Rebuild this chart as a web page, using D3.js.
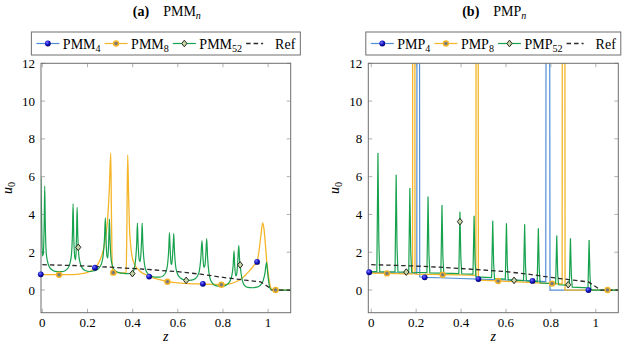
<!DOCTYPE html>
<html>
<head>
<meta charset="utf-8">
<script src="https://cdn.jsdelivr.net/npm/d3@7"></script>
<style>
body { margin: 0; background: #fff; }
</style>
</head>
<body>
<svg id="chart" width="628" height="347" font-family="'Liberation Serif', 'Times New Roman', 'DejaVu Serif', serif"></svg>
<script>
// ticks
const xTicks = [0, 0.2, 0.4, 0.6, 0.8, 1]
const yTicks = [0, 2, 4, 6, 8, 10, 12]

// reference solution (same in both panels)
const refLine = [[0,1.34],[0.1,1.31],[0.2,1.27],[0.3,1.21],[0.4,1.14],[0.5,1.06],[0.6,0.97],[0.7,0.84],[0.8,0.67],[0.9,0.52],[0.967,0.43],[1.0,0.17],[1.02,0],[1.1,0]]

// panel (a) PMM_n
const pmm8 = [[0,0.82],[0.074,0.81],[0.13,0.82],[0.17,0.86],[0.2,0.94],[0.22,1.05],[0.233,1.18],[0.25,1.45],[0.265,1.9],[0.278,2.6],[0.288,3.6],[0.296,5.2],[0.303,7.25],[0.306,4.0],[0.309,1.5],[0.312,0.95],[0.33,0.92],[0.36,0.9],[0.371,0.92],[0.374,3.0],[0.378,7.15],[0.382,5.0],[0.386,3.3],[0.391,2.4],[0.397,1.8],[0.405,1.45],[0.42,1.15],[0.44,0.92],[0.46,0.8],[0.473,0.72],[0.52,0.55],[0.554,0.44],[0.6,0.38],[0.65,0.34],[0.7,0.32],[0.75,0.3],[0.793,0.28],[0.83,0.32],[0.86,0.45],[0.89,0.68],[0.92,1.05],[0.94,1.35],[0.951,1.5],[0.96,2.1],[0.968,2.9],[0.976,3.55],[0.982,3.2],[0.988,2.4],[0.994,1.5],[1.0,0.9],[1.006,0.4],[1.012,0.1],[1.02,0],[1.1,0]]
const pmm4 = pmm8 // lies under PMM8 everywhere, only its marks show
const pmm52 = [[-0.006,5.95],[-0.003,3.5],[0.0,1.8],[0.004,1.9],[0.008,3.5],[0.0105,5.5],[0.013,3.5],[0.017,2.0],[0.023,1.5],[0.032,1.2],[0.045,1.05],[0.065,0.97],[0.085,0.97],[0.1,1.02],[0.113,1.15],[0.122,1.4],[0.129,1.9],[0.133,2.9],[0.136,4.56],[0.139,2.9],[0.143,1.8],[0.147,1.6],[0.15,2.2],[0.152,3.3],[0.154,4.37],[0.157,2.9],[0.161,1.9],[0.166,1.5],[0.175,1.2],[0.19,1.03],[0.21,0.98],[0.23,1.02],[0.25,1.15],[0.262,1.4],[0.27,1.9],[0.275,2.7],[0.279,3.82],[0.282,2.7],[0.286,1.8],[0.29,1.7],[0.293,2.3],[0.295,3.0],[0.297,3.75],[0.3,2.6],[0.304,1.7],[0.31,1.3],[0.32,1.05],[0.34,0.92],[0.36,0.88],[0.38,0.87],[0.398,0.9],[0.407,1.15],[0.413,1.6],[0.418,2.5],[0.421,3.54],[0.424,2.5],[0.429,1.6],[0.433,1.5],[0.437,2.0],[0.44,2.8],[0.442,3.54],[0.445,2.5],[0.45,1.6],[0.456,1.15],[0.465,0.9],[0.48,0.75],[0.5,0.68],[0.52,0.68],[0.535,0.75],[0.547,0.95],[0.555,1.4],[0.56,2.2],[0.563,3.04],[0.566,2.2],[0.57,1.4],[0.573,1.35],[0.577,1.9],[0.58,2.5],[0.582,2.99],[0.585,2.1],[0.59,1.3],[0.597,0.9],[0.61,0.65],[0.63,0.53],[0.65,0.51],[0.67,0.55],[0.685,0.7],[0.695,1.0],[0.702,1.7],[0.707,2.62],[0.711,1.8],[0.715,1.2],[0.72,1.3],[0.724,1.9],[0.728,2.72],[0.732,1.7],[0.738,0.9],[0.746,0.5],[0.76,0.28],[0.78,0.2],[0.8,0.2],[0.815,0.26],[0.83,0.45],[0.84,0.8],[0.845,1.3],[0.849,2.07],[0.852,1.3],[0.856,0.75],[0.86,0.8],[0.865,1.4],[0.87,2.37],[0.873,1.7],[0.876,1.33],[0.88,0.9],[0.886,0.5],[0.895,0.25],[0.91,0.14],[0.93,0.12],[0.95,0.15],[0.965,0.25],[0.978,0.5],[0.986,0.9],[0.993,1.47],[0.998,0.9],[1.003,0.4],[1.008,0.1],[1.015,0],[1.1,0]]
const pmm4Marks = [[-0.007,0.83],[0.233,1.18],[0.473,0.71],[0.711,0.33],[0.951,1.49]]
const pmm8Marks = [[0.074,0.81],[0.314,0.92],[0.554,0.44],[0.793,0.28],[1.033,0]]
const pmm52Marks = [[0.159,2.26],[0.399,0.87],[0.637,0.51],[0.876,1.33]]

// panel (b) PMP_n  (spikes leave the box, tops at 40 get clipped)
const pmp4 = [[0,0.93],[0.1,0.91],[0.2,0.88],[0.203,0.88],[0.205,40],[0.213,40],[0.216,0.7],[0.238,0.67],[0.3,0.65],[0.4,0.61],[0.477,0.58],[0.6,0.53],[0.718,0.48],[0.777,0.44],[0.781,40],[0.792,40],[0.796,0],[1.1,0]]
const pmp8 = [[0,0.9],[0.07,0.88],[0.15,0.86],[0.184,0.86],[0.186,40],[0.193,40],[0.195,0.84],[0.318,0.81],[0.4,0.8],[0.466,0.78],[0.468,40],[0.475,40],[0.477,0.52],[0.565,0.48],[0.7,0.4],[0.805,0.34],[0.85,0.32],[0.852,40],[0.861,40],[0.863,0],[1.1,0]]
const pmp52 = [[0,0.97],[0.025,0.97],[0.03,7.25],[0.034,2.5],[0.038,0.97],[0.106,0.96],[0.111,6.1],[0.115,2.2],[0.119,0.96],[0.167,0.95],[0.172,5.4],[0.176,2.0],[0.18,0.94],[0.248,0.92],[0.253,4.95],[0.257,1.9],[0.261,0.91],[0.31,0.9],[0.315,4.5],[0.319,1.8],[0.323,0.89],[0.39,0.87],[0.395,4.14],[0.399,1.7],[0.403,0.86],[0.453,0.84],[0.458,3.93],[0.462,1.6],[0.466,0.7],[0.536,0.66],[0.541,3.66],[0.545,1.4],[0.549,0.6],[0.597,0.58],[0.602,3.54],[0.606,1.3],[0.61,0.55],[0.678,0.5],[0.683,3.48],[0.687,1.2],[0.691,0.48],[0.739,0.45],[0.744,3.27],[0.748,1.1],[0.752,0.38],[0.821,0.33],[0.826,2.88],[0.83,0.9],[0.834,0.28],[0.882,0.25],[0.887,2.74],[0.891,0.8],[0.895,0.15],[0.965,0.12],[0.97,2.65],[0.974,0.7],[0.978,0.05],[0.985,0],[1.1,0]]
const pmp4Marks = [[-0.009,0.94],[0.238,0.67],[0.477,0.58],[0.718,0.48],[0.967,0]]
const pmp8Marks = [[0.07,0.88],[0.318,0.81],[0.565,0.48],[0.805,0.34],[1.052,0]]
const pmp52Marks = [[0.156,0.95],[0.395,3.62],[0.636,0.51],[0.877,0.28]]

const colBlue = '#4f8fd6', colOrange = '#f5b528', colGreen = '#17a24e'

const svg = d3.select('#chart')
const defs = svg.append('defs')
let grad = defs.append('radialGradient').attr('id', 'ball').attr('cx', '38%').attr('cy', '35%').attr('r', '65%')
grad.append('stop').attr('offset', '0%').attr('stop-color', '#7a7aff')
grad.append('stop').attr('offset', '55%').attr('stop-color', '#1414c8')
grad.append('stop').attr('offset', '100%').attr('stop-color', '#00006a')

function drawMark(g, kind, cx, cy) {
    if (kind == 'ball') {
        g.append('circle').attr('cx', cx).attr('cy', cy).attr('r', 2.9).attr('fill', 'url(#ball)')
    } else if (kind == 'dot') {
        g.append('circle').attr('cx', cx).attr('cy', cy).attr('r', 2.5)
            .attr('fill', '#7b7b7b').attr('stroke', colOrange).attr('stroke-width', 1.4)
    } else {
        g.append('path').attr('transform', `translate(${cx},${cy})`)
            .attr('d', 'M0,-3.3L2.6,0L0,3.3L-2.6,0Z')
            .attr('fill', '#c8d8a4').attr('stroke', '#262626').attr('stroke-width', 1)
    }
}

function subText(sel, parts, size) {
    parts.forEach((p) => {
        let t = sel.append('tspan').text(p.t)
        if (p.bold) t.attr('font-weight', 'bold')
        if (p.italic) t.attr('font-style', 'italic')
        if (p.sub) t.attr('font-size', size * 0.72).attr('dy', size * 0.22)
    })
}

function drawPanel(cfg) {
    let x = d3.scaleLinear(cfg.xDomain, [cfg.left, cfg.right])
    let y = d3.scaleLinear([-1.2, 12], [cfg.bottom, cfg.top])
    let g = svg.append('g')
    let clipId = 'clip' + cfg.id
    defs.append('clipPath').attr('id', clipId).append('rect')
        .attr('x', cfg.left).attr('y', cfg.top).attr('width', cfg.right - cfg.left).attr('height', cfg.bottom - cfg.top)

    // ticks, mirrored inside the box
    let tickCol = '#b0b0b0'
    xTicks.forEach((t) => {
        g.append('line').attr('x1', x(t)).attr('x2', x(t)).attr('y1', cfg.bottom).attr('y2', cfg.bottom - 4).attr('stroke', tickCol)
        g.append('line').attr('x1', x(t)).attr('x2', x(t)).attr('y1', cfg.top).attr('y2', cfg.top + 4).attr('stroke', tickCol)
        g.append('text').attr('x', x(t)).attr('y', cfg.bottom + 14).attr('text-anchor', 'middle').attr('font-size', 13).text(t)
    })
    yTicks.forEach((t) => {
        g.append('line').attr('x1', cfg.left).attr('x2', cfg.left + 4).attr('y1', y(t)).attr('y2', y(t)).attr('stroke', tickCol)
        g.append('line').attr('x1', cfg.right).attr('x2', cfg.right - 4).attr('y1', y(t)).attr('y2', y(t)).attr('stroke', tickCol)
        g.append('text').attr('x', cfg.left - 6).attr('y', y(t) + 4.5).attr('text-anchor', 'end').attr('font-size', 13).text(t)
    })

    let line = d3.line().x((d) => x(d[0])).y((d) => y(d[1])).curve(cfg.curve)
    let plot = g.append('g').attr('clip-path', `url(#${clipId})`).attr('fill', 'none')
    if (cfg.blueLine) plot.append('path').attr('d', line(cfg.s4)).attr('stroke', colBlue).attr('stroke-width', 1.2)
    plot.append('path').attr('d', line(cfg.s8)).attr('stroke', colOrange).attr('stroke-width', 1.3)
    plot.append('path').attr('d', line(cfg.s52)).attr('stroke', colGreen).attr('stroke-width', 1.2)
    plot.append('path').attr('d', d3.line().x((d) => x(d[0])).y((d) => y(d[1]))(refLine))
        .attr('stroke', '#2b2b2b').attr('stroke-width', 1.3).attr('stroke-dasharray', '4.5,3')

    // frame
    g.append('rect').attr('x', cfg.left).attr('y', cfg.top).attr('width', cfg.right - cfg.left).attr('height', cfg.bottom - cfg.top)
        .attr('fill', 'none').attr('stroke', '#6e6e6e').attr('stroke-width', 1)

    let marks = g.append('g')
    cfg.m4.forEach((d) => drawMark(marks, 'ball', x(d[0]), y(d[1])))
    cfg.m8.forEach((d) => drawMark(marks, 'dot', x(d[0]), y(d[1])))
    cfg.m52.forEach((d) => drawMark(marks, 'diamond', x(d[0]), y(d[1])))

    // axis labels
    let cx = (cfg.left + cfg.right) / 2
    g.append('text').attr('x', cx).attr('y', 341).attr('text-anchor', 'middle').attr('font-size', 14)
        .attr('font-style', 'italic').text('z')
    let yl = g.append('text').attr('transform', `translate(${cfg.left - 29},${(cfg.top + cfg.bottom) / 2}) rotate(-90)`)
        .attr('text-anchor', 'middle').attr('font-size', 14)
    subText(yl, [{t: 'u', italic: true}, {t: '0', sub: true}], 14)

    // title
    let tt = g.append('text').attr('x', cx + 1).attr('y', 16).attr('text-anchor', 'middle').attr('font-size', 14)
    subText(tt, [{t: '(' + cfg.id + ')', bold: true}, {t: '\u2003' + cfg.name}, {t: 'n', sub: true, italic: true}], 14)

    // legend
    let lg = g.append('g')
    let entries = [
        {name: cfg.name, sub: '4', col: colBlue, mark: 'ball'},
        {name: cfg.name, sub: '8', col: colOrange, mark: 'dot'},
        {name: cfg.name, sub: '52', col: colGreen, mark: 'diamond'},
        {name: 'Ref', sub: null, col: '#2b2b2b', mark: null}
    ]
    let ly = 43.5, pos = 0
    entries.forEach((e) => {
        let item = lg.append('g')
        if (e.mark) {
            item.append('line').attr('x1', pos).attr('x2', pos + 23).attr('y1', ly).attr('y2', ly).attr('stroke', e.col).attr('stroke-width', 1.2)
            drawMark(item, e.mark, pos + 11.5, ly)
        } else {
            item.append('line').attr('x1', pos).attr('x2', pos + 17).attr('y1', ly).attr('y2', ly)
                .attr('stroke', e.col).attr('stroke-width', 1.3).attr('stroke-dasharray', '4.5,3')
        }
        let tx = pos + (e.mark ? 26.5 : 29)
        let t = item.append('text').attr('x', tx).attr('y', ly + 5).attr('font-size', 14)
        let parts = [{t: e.name}]
        if (e.sub) parts.push({t: e.sub, sub: true})
        subText(t, parts, 14)
        let w = t.node().getComputedTextLength()
        pos = tx + w + 4
    })
    let total = pos - 4
    let lx = cx - total / 2
    lg.attr('transform', `translate(${lx},0)`)
    lg.insert('rect', ':first-child').attr('x', -5).attr('y', 32).attr('width', total + 10).attr('height', 23)
        .attr('fill', '#fff').attr('stroke', '#6e6e6e').attr('stroke-width', 1)
}

drawPanel({id: 'a', name: 'PMM', left: 41, right: 290.7, top: 63.3, bottom: 312.7, xDomain: [-0.006, 1.1], blueLine: false,
    s4: pmm4, s8: pmm8, s52: pmm52, m4: pmm4Marks, m8: pmm8Marks, m52: pmm52Marks, curve: d3.curveMonotoneX})
drawPanel({id: 'b', name: 'PMP', left: 368.3, right: 618.3, top: 63.3, bottom: 312.7, xDomain: [-0.013, 1.1], blueLine: true,
    s4: pmp4, s8: pmp8, s52: pmp52, m4: pmp4Marks, m8: pmp8Marks, m52: pmp52Marks, curve: d3.curveLinear})
</script>
</body>
</html>
